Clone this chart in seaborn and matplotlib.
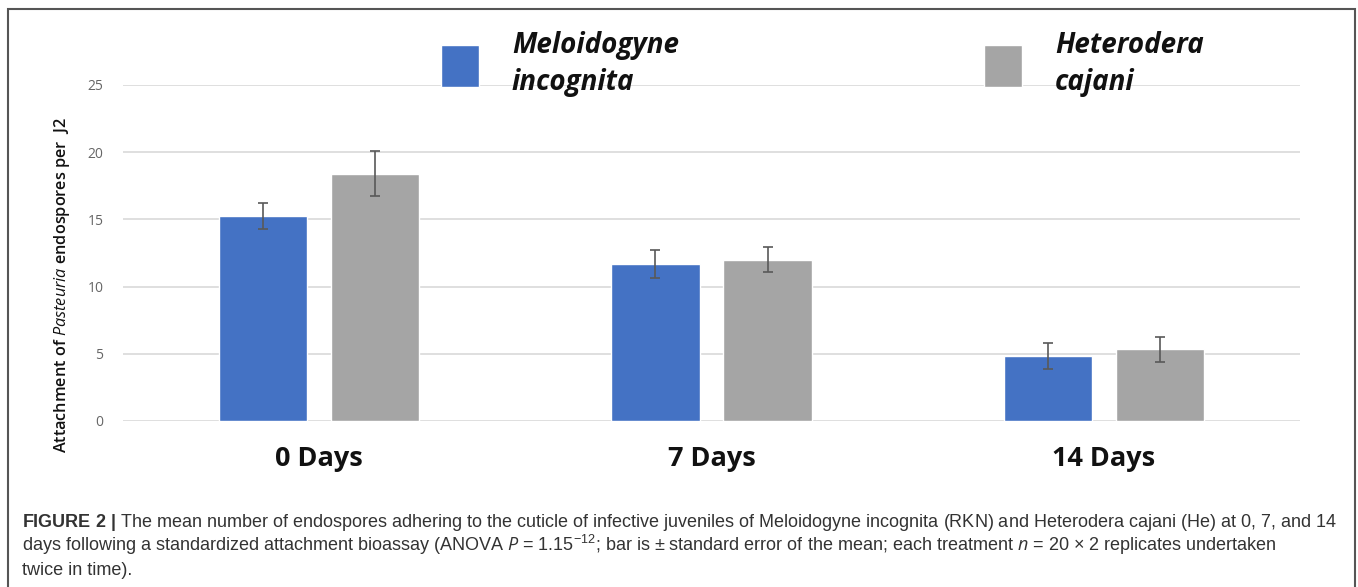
import pandas as pd
import matplotlib.pyplot as plt
import seaborn as sns
from matplotlib.patches import Rectangle

days = ['0 Days', '7 Days', '14 Days']
species = ['Meloidogyne\nincognita', 'Heterodera\ncajani']
mean_meloidogyne = [15.25, 11.7, 4.85]
mean_heterodera = [18.4, 12.0, 5.35]
se_meloidogyne = [1.0, 1.05, 0.97]
se_heterodera = [1.68, 0.93, 0.93]
yticks = [0, 5, 10, 15, 20, 25]

df = pd.DataFrame({
    'day': days * 2,
    'mean': mean_meloidogyne + mean_heterodera,
    'species': [species[0]] * 3 + [species[1]] * 3,
})

sns.set_style('white')
plt.rcParams['font.family'] = ['Open Sans', 'DejaVu Sans']
plt.rcParams['mathtext.fontset'] = 'custom'
plt.rcParams['mathtext.rm'] = 'Liberation Sans'
plt.rcParams['mathtext.it'] = 'Open Sans:italic'
plt.rcParams['mathtext.bf'] = 'Liberation Sans:bold'

fig = plt.figure(figsize=(13.58, 5.87), dpi=100)
ax = fig.add_axes([123 / 1358, 1 - 421 / 587, 1177 / 1358, 336 / 587])

sns.barplot(data=df, x='day', y='mean', hue='species', palette=['#4472C4', '#A5A5A5'],
            width=0.571, gap=0.214, errorbar=None, saturation=1, ax=ax)

# standard error bars on top of the bars
for container, se in zip(ax.containers, [se_meloidogyne, se_heterodera]):
    for bar, s in zip(container, se):
        x = bar.get_x() + bar.get_width() / 2
        ax.errorbar(x, bar.get_height(), yerr=s, fmt='none', ecolor='#595959',
                    elinewidth=1.2, capsize=3.5, capthick=1.2)

ax.set_xlim(-0.5, 2.5)
ax.set_ylim(0, 25)
ax.set_yticks(yticks)
ax.yaxis.grid(True, color='#D9D9D9', linewidth=1.2)
ax.set_axisbelow(True)
sns.despine(ax=ax, left=True, bottom=True)
ax.tick_params(axis='y', length=0, pad=14, labelsize=10, labelcolor='#666666')
ax.tick_params(axis='x', length=0, pad=18)
for lab in ax.get_xticklabels():
    lab.set_fontsize(19.5)
    lab.set_fontweight('bold')
    lab.set_color('#111111')
ax.set_xlabel('')
ax.set_ylabel(r'Attachment of $\it{Pasteuria}$ endospores per  J2', fontsize=11.7,
              fontweight='semibold', color='#111111')
ax.yaxis.set_label_coords(-0.043, 0.405)

handles, labels = ax.get_legend_handles_labels()
leg = ax.legend(handles, labels, loc='upper left', bbox_to_anchor=(441 / 1358, 1 - 31 / 587),
                bbox_transform=fig.transFigure, ncol=2, frameon=False, borderpad=0,
                borderaxespad=0, handlelength=1.35, handleheight=2.0, handletextpad=1.2,
                columnspacing=11.0,
                prop={'family': 'Open Sans', 'weight': 'bold', 'style': 'italic', 'size': 20})
for t in leg.get_texts():
    t.set_linespacing(1.35)
    t.set_color('#111111')

# outer frame
fig.patches.append(Rectangle((8 / 1358, -0.05), 1347 / 1358, 1.05 - 9 / 587,
                             transform=fig.transFigure, fill=False, edgecolor='#555555',
                             linewidth=1.5))

cap = dict(family='Liberation Sans', fontsize=12.95, color='#333333', va='baseline')
fig.text(22 / 1358, 1 - 527 / 587,
         r'$\bf{FIGURE\ 2\ |}$ The mean number of endospores adhering to the cuticle of infective '
         'juveniles of Meloidogyne incognita (RKN) and Heterodera cajani (He) at 0, 7, and 14', **cap)
fig.text(22 / 1358, 1 - 551 / 587,
         r'days following a standardized attachment bioassay (ANOVA $P$ = 1.15$^{-12}$; bar is '
         r'± standard error of the mean; each treatment $n$ = 20 × 2 replicates undertaken', **cap)
fig.text(22 / 1358, 1 - 575 / 587, 'twice in time).', **cap)

fig.savefig('out.png', dpi=100)
